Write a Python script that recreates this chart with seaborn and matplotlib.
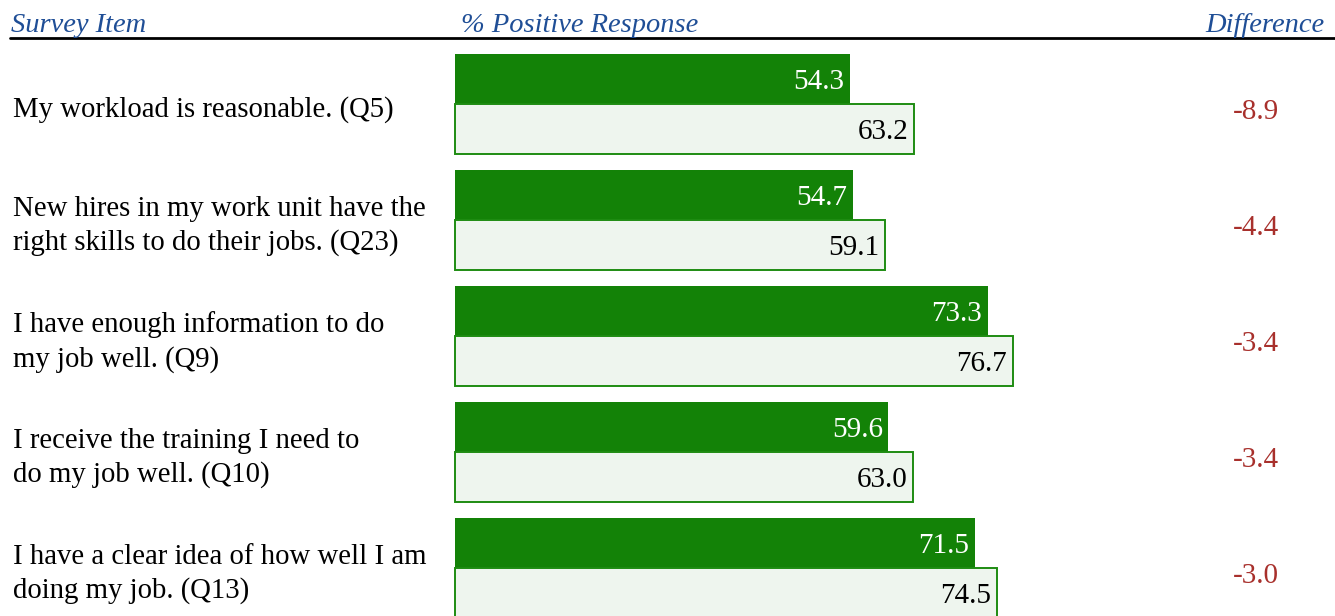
import pandas as pd
import matplotlib.pyplot as plt
import seaborn as sns

# data
items = [
    "My workload is reasonable. (Q5)",
    "New hires in my work unit have the\nright skills to do their jobs. (Q23)",
    "I have enough information to do\nmy job well. (Q9)",
    "I receive the training I need to\ndo my job well. (Q10)",
    "I have a clear idea of how well I am\ndoing my job. (Q13)",
]
series_names = ["Current", "Comparison"]
current = [54.3, 54.7, 73.3, 59.6, 71.5]
comparison = [63.2, 59.1, 76.7, 63.0, 74.5]
difference = [-8.9, -4.4, -3.4, -3.4, -3.0]
headers = ["Survey Item", "% Positive Response", "Difference"]

dark_green = "#138207"
light_fill = "#EEF5EE"
edge_green = "#1E8C12"
head_blue = "#1F4E96"
diff_red = "#A8302C"

df = pd.DataFrame({
    "item": items * 2,
    "series": [series_names[0]] * len(items) + [series_names[1]] * len(items),
    "value": current + comparison,
})

sns.set_style("white")
plt.rcParams["font.family"] = ["Liberation Serif", "DejaVu Serif"]

W, H = 1335, 616
fig = plt.figure(figsize=(W / 100, H / 100), dpi=100)
ax = fig.add_axes([0, 0, 1, 1])

sns.barplot(data=df, y="item", x="value", hue="series", orient="h",
            palette=[dark_green, light_fill], width=0.87, gap=0,
            legend=False, ax=ax, saturation=1)

# pixel layout: value 0 at x=455, 7.27 px per point, group pitch 116 px
px_per_unit = 7.27
x0 = 455
ax.set_xlim(-x0 / px_per_unit, (W - x0) / px_per_unit)
g0 = 104
pitch = 116
ax.set_ylim((H - g0) / pitch, -g0 / pitch)
ax.axis("off")

for bar in ax.containers[0]:
    bar.set_edgecolor("none")
for bar in ax.containers[1]:
    bar.set_edgecolor(edge_green)
    bar.set_linewidth(1.4)

fs = 21
# value labels inside the bar ends
for cont, vals, col in [(ax.containers[0], current, "white"),
                        (ax.containers[1], comparison, "black")]:
    for bar, v in zip(cont, vals):
        yc = bar.get_y() + bar.get_height() / 2
        ax.annotate(f"{v:.1f}", xy=(v, yc), xytext=(-4, -2),
                    textcoords="offset points", ha="right", va="center",
                    fontsize=fs, color=col)

ytr = ax.get_yaxis_transform()
for i, (txt, d) in enumerate(zip(items, difference)):
    ax.text(13 / W, i + 0.05, txt, transform=ytr, ha="left", va="center",
            fontsize=20.7, linespacing=1.37, color="black")
    ax.text(1256 / W, i + 0.065, f"{d:.1f}", transform=ytr, ha="center",
            va="center", fontsize=fs, color=diff_red)

# header row
hy = 1 - 26 / H
fig.text(11 / W, hy, headers[0], ha="left", va="center", fontsize=20.5,
         style="italic", color=head_blue)
fig.text(461 / W, hy, headers[1], ha="left", va="center", fontsize=20.5,
         style="italic", color=head_blue)
fig.text(1324 / W, hy, headers[2], ha="right", va="center", fontsize=20.5,
         style="italic", color=head_blue)
ax.axhline((38 - g0) / pitch, xmin=10 / W, xmax=1, color="black", lw=2)

fig.savefig("out.png", dpi=100)
